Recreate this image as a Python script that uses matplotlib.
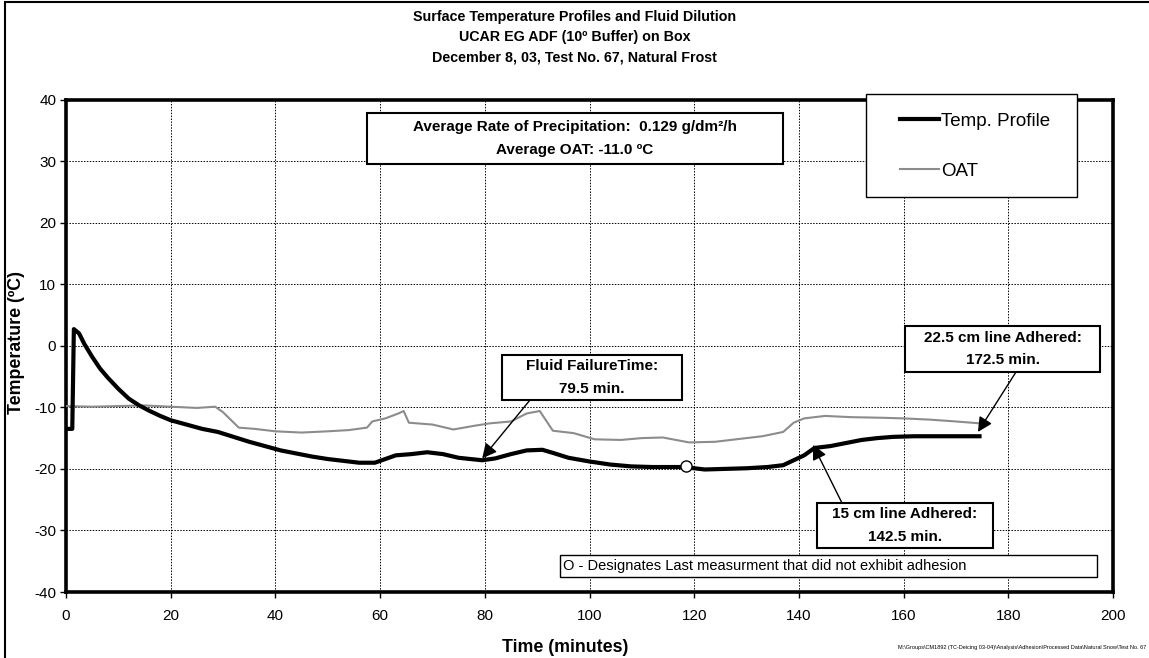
import matplotlib
matplotlib.use("Agg")
import matplotlib.pyplot as plt
from matplotlib.patches import Rectangle

plt.rcParams['font.family'] = ['Liberation Sans', 'DejaVu Sans']
plt.rcParams['axes.unicode_minus'] = False

# surface temperature profile (thick black)
time_temp = [0, 1.2, 1.5, 2.5, 3.5, 5, 6.5, 8, 10, 12, 14, 16, 18, 20, 23, 26, 29, 32,
             35, 38, 41, 44, 47, 50, 53, 56, 59, 61, 63, 66, 69, 72, 75, 79.5, 82, 85,
             88, 91, 93, 96, 100, 104, 108, 112, 118, 122, 126, 130, 134, 137, 139,
             141, 143, 146, 149, 152, 155, 158, 162, 168, 174.5]
temp_profile = [-13.5, -13.5, 2.7, 2.0, 0.3, -1.8, -3.7, -5.2, -7.0, -8.6, -9.7, -10.6,
                -11.4, -12.1, -12.8, -13.5, -14.0, -14.8, -15.6, -16.3, -17.0, -17.5,
                -18.0, -18.4, -18.7, -19.0, -19.0, -18.4, -17.8, -17.6, -17.3, -17.6,
                -18.2, -18.6, -18.3, -17.6, -17.0, -16.9, -17.4, -18.2, -18.8, -19.3,
                -19.6, -19.7, -19.7, -20.1, -20.0, -19.9, -19.7, -19.4, -18.6, -17.8,
                -16.6, -16.3, -15.8, -15.3, -15.0, -14.8, -14.7, -14.7, -14.7]

# outside air temperature (grey)
time_oat = [0, 5, 10, 15, 20, 25, 28.5, 30, 33, 36, 40, 45, 50, 54, 57.5, 58.5, 61,
            63.5, 64.5, 65.5, 70, 74, 78, 81, 85, 88, 90.5, 93, 97, 101, 106, 110, 114,
            119, 124, 128, 133, 137, 139, 141, 145, 150, 156, 160, 165, 170, 174.5]
oat = [-9.8, -9.9, -9.8, -9.7, -9.9, -10.1, -9.9, -10.8, -13.3, -13.5, -13.9, -14.1,
       -13.9, -13.7, -13.3, -12.3, -11.8, -11.0, -10.6, -12.5, -12.8, -13.6, -13.0,
       -12.6, -12.3, -11.0, -10.6, -13.8, -14.2, -15.2, -15.3, -15.0, -14.9, -15.7,
       -15.6, -15.2, -14.7, -14.0, -12.5, -11.8, -11.4, -11.6, -11.7, -11.8, -12.0,
       -12.3, -12.6]

# last measurement without adhesion
last_ok = (118.5, -19.6)

# event markers the arrows point at: (time, temperature)
fluid_fail = (79.5, -18.3)
adh_15 = (142.7, -16.1)
adh_225 = (174.2, -14.0)

titles = ["Surface Temperature Profiles and Fluid Dilution",
          "UCAR EG ADF (10º Buffer) on Box",
          "December 8, 03, Test No. 67, Natural Frost"]
x_ticks = list(range(0, 201, 20))
y_ticks = list(range(-40, 41, 10))

W, H = 1149, 658


def fx(px):
    return px / W


def fy(py):
    return 1 - py / H


fig = plt.figure(figsize=(W / 100, H / 100), dpi=100)
ax = fig.add_axes([fx(66), fy(592), 1047 / W, 492.5 / H])

ax.plot(time_oat, oat, color='#8c8c8c', lw=1.5, label='OAT', zorder=3)
ax.plot(time_temp, temp_profile, color='black', lw=3.0, label='Temp. Profile', zorder=4)
ax.plot(*last_ok, 'o', ms=8, mfc='white', mec='black', mew=1, zorder=5)

ax.set_xlim(0, 200)
ax.set_ylim(-40, 40)
ax.set_xticks(x_ticks)
ax.set_yticks(y_ticks)
ax.tick_params(direction='out', length=4, width=1, labelsize=11)
ax.tick_params(axis='x', pad=8)
ax.tick_params(axis='y', pad=3)
ax.grid(True, color='black', lw=0.7, linestyle=(0, (1.5, 1.5)))
ax.set_axisbelow(True)
for s in ax.spines.values():
    s.set_linewidth(2.6)

ax.set_xlabel('Time (minutes)', fontsize=12.8, fontweight='bold')
ax.xaxis.set_label_coords((565 - 66) / 1047, -(648 - 592) / 492.5)
ax.xaxis.label.set_va('center')
ax.set_ylabel('Temperature (ºC)', fontsize=12.8, fontweight='bold')
ax.yaxis.set_label_coords(-(66 - 17) / 1047, 0.506)
ax.yaxis.label.set_va('center')

for i, t in enumerate(titles):
    fig.text(0.5, fy(17 + 20 * i), t, ha='center', va='center',
             fontsize=10.3, fontweight='bold')


def box(x0, y0, x1, y1, lw=1.5):
    r = Rectangle((fx(x0), fy(y1)), (x1 - x0) / W, (y1 - y0) / H,
                  transform=fig.transFigure, fc='white', ec='black', lw=lw,
                  clip_on=False, zorder=8)
    ax.add_patch(r)


def boxed(text, x0, y0, x1, y1, size=11, bold=True):
    box(x0, y0, x1, y1)
    ax.text(fx((x0 + x1) / 2), fy((y0 + y1) / 2), text, transform=fig.transFigure,
            ha='center', va='center', fontsize=size,
            fontweight='bold' if bold else 'normal', linespacing=1.75, zorder=9)


def arrow(start_px, tip):
    ax.annotate('', xy=tip, xytext=(fx(start_px[0]), fy(start_px[1])),
                textcoords='figure fraction',
                arrowprops=dict(arrowstyle='-|>', color='black', lw=1,
                                mutation_scale=22, shrinkA=0, shrinkB=0), zorder=9)


# legend with a wider frame of its own
box(866, 94, 1077, 197, lw=1)
h, l = ax.get_legend_handles_labels()
leg = ax.legend(h[::-1], l[::-1], loc='center', bbox_to_anchor=(fx(975), fy(146)),
                bbox_transform=fig.transFigure, fontsize=13.5, frameon=False,
                handlelength=2.1, handletextpad=0.1, labelspacing=1.75)
leg.set_zorder(10)

boxed('Average Rate of Precipitation:  0.129 g/dm²/h\nAverage OAT: -11.0 ºC',
      367, 113, 783, 164)
boxed('Fluid FailureTime:\n79.5 min.', 502, 355, 682, 400)
boxed('22.5 cm line Adhered:\n172.5 min.', 905, 326, 1100, 372)
boxed('15 cm line Adhered:\n142.5 min.', 817, 503, 993, 548)

arrow((530, 400), fluid_fail)
arrow((1016, 372), adh_225)
arrow((842, 503), adh_15)

# note box
box(560, 555, 1097, 577, lw=1)
ax.text(fx(563), fy(566), 'O - Designates Last measurment that did not exhibit adhesion',
        transform=fig.transFigure, ha='left', va='center', fontsize=10.5, zorder=9)

fig.text(fx(1146), fy(647),
         'M:\\Groups\\CM1892 (TC-Deicing 03-04)\\Analysis\\Adhesion\\Processed Data\\Natural Snow\\Test No. 67',
         ha='right', va='center', fontsize=4)

# outer border
fig.patches.append(Rectangle((fx(5), -0.01), 1.0, fy(2) + 0.01, transform=fig.transFigure,
                             fill=False, ec='black', lw=1.5))

fig.savefig('out.png', dpi=100)
